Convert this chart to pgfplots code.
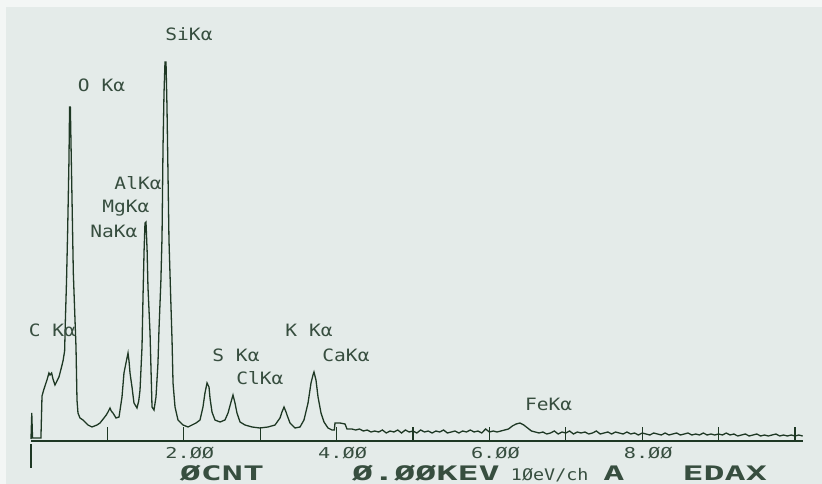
\documentclass[border=0pt]{standalone}
\usepackage{fontspec}
\usepackage{pgfplots}
\pgfplotsset{compat=1.18}
\newfontfamily\labfont[FakeStretch=1.15]{DejaVu Sans Mono}
\newfontfamily\tickfont[FakeStretch=1.35]{DejaVu Sans Mono}
\newfontfamily\botfont[FakeStretch=1.75]{DejaVu Sans Mono}
\definecolor{paper}{RGB}{228,235,233}
\definecolor{ink}{RGB}{30,56,36}
\definecolor{txt}{RGB}{55,78,63}
\tikzset{lab/.style={anchor=base, inner sep=0pt, text=txt, font=\labfont\fontsize{17bp}{20bp}\selectfont},
  bot/.style={anchor=base, inner sep=0pt, text=txt, font=\botfont\bfseries\fontsize{20bp}{24bp}\selectfont}}
\pgfplotstableread{
x y
0.000 2
0.010 28
0.020 3
0.130 3
0.144 45
0.170 52
0.209 61
0.235 68
0.249 66
0.270 68
0.288 62
0.314 56
0.340 60
0.366 64
0.393 72
0.419 80
0.440 90
0.450 121
0.465 160
0.480 211
0.497 281
0.505 334
0.515 334
0.533 258
0.554 168
0.576 121
0.589 94
0.602 41
0.615 28
0.641 23
0.681 21
0.720 18
0.746 16
0.798 14
0.864 16
0.903 18
0.955 23
0.985 26
1.008 29
1.034 33
1.050 30
1.073 28
1.113 23
1.152 24
1.191 44
1.217 68
1.243 78
1.270 88
1.283 80
1.296 68
1.322 54
1.348 38
1.387 33
1.410 40
1.427 51
1.453 94
1.466 144
1.480 190
1.492 218
1.505 219
1.520 190
1.531 154
1.558 108
1.584 34
1.610 31
1.636 44
1.662 78
1.675 111
1.700 160
1.715 204
1.728 294
1.741 348
1.754 379
1.767 379
1.780 334
1.793 268
1.806 201
1.830 140
1.846 101
1.859 58
1.885 34
1.924 21
1.990 16
2.055 14
2.107 16
2.160 18
2.212 21
2.251 34
2.277 48
2.304 58
2.317 56
2.330 54
2.343 43
2.369 29
2.408 21
2.474 19
2.539 21
2.579 28
2.618 39
2.644 46
2.670 38
2.696 28
2.736 19
2.801 16
2.893 14
2.997 13
3.102 14
3.194 16
3.259 23
3.285 29
3.312 34
3.338 29
3.351 26
3.390 18
3.455 13
3.521 14
3.573 21
3.626 38
3.665 58
3.691 66
3.704 69
3.730 61
3.757 44
3.796 28
3.835 19
3.887 13
3.940 11
3.970 11
3.979 18
4.045 18
4.110 17
4.136 12
4.20 12
4.25 11
4.30 12
4.35 10
4.40 11
4.45 9
4.50 10
4.55 9
4.60 11
4.65 8
4.70 10
4.75 9
4.80 11
4.85 8
4.90 11
4.95 9
5.00 10
5.05 8
5.10 11
5.15 9
5.20 10
5.25 8
5.30 10
5.35 9
5.40 11
5.45 8
5.50 9
5.55 10
5.60 8
5.65 10
5.70 9
5.75 11
5.80 9
5.85 10
5.90 8
5.95 12
6.00 9
6.05 10
6.10 9
6.15 10
6.20 11
6.25 12
6.30 15
6.35 17
6.40 18
6.45 16
6.50 13
6.55 10
6.60 9
6.65 8
6.70 9
6.75 7
6.80 8
6.85 10
6.90 7
6.95 9
7.00 8
7.05 10
7.10 7
7.15 9
7.20 8
7.25 9
7.30 7
7.35 8
7.40 10
7.45 7
7.50 8
7.55 9
7.60 7
7.65 9
7.70 8
7.75 7
7.80 9
7.85 7
7.90 8
7.95 6
8.00 8
8.05 7
8.10 6
8.15 8
8.20 7
8.25 6
8.30 8
8.35 6
8.40 7
8.45 8
8.50 6
8.55 7
8.60 8
8.65 6
8.70 7
8.75 6
8.80 8
8.85 6
8.90 7
8.95 6
9.00 7
9.05 6
9.10 8
9.15 6
9.20 7
9.25 5
9.30 6
9.35 7
9.40 5
9.45 6
9.50 7
9.55 5
9.60 6
9.65 5
9.70 6
9.75 7
9.80 5
9.85 6
9.90 5
9.95 6
10.00 5
10.05 6
10.10 5
}\spectrum
\begin{document}
\begin{tikzpicture}
\useasboundingbox (0,0) rectangle (822bp,484bp);
\clip (0,0) rectangle (822bp,484bp);
\fill[white!55!paper] (0,0) rectangle (822bp,484bp);
\fill[paper] (6bp,0) rectangle (822bp,477bp);
\begin{axis}[
  at={(31bp,43bp)}, anchor=south west,
  scale only axis, width=771.64bp, height=441bp,
  xmin=0, xmax=10.1, ymin=0, ymax=441,
  axis x line=bottom, axis y line=none,
  axis line style={-, line width=1.7bp, ink},
  xtick={1,2,3,4,5,6,7,8,9,10},
  xticklabels={,2.ØØ,,4.ØØ,,6.ØØ,,8.ØØ,,},
  ytick=\empty,
  tick align=inside, major tick length=14bp,
  tick style={ink, line width=1.1bp},
  xticklabel style={anchor=base, yshift=-17bp, xshift=6bp, inner sep=0pt,
    font=\tickfont\fontsize{15bp}{18bp}\selectfont, text=txt},
  clip=false,
]
\addplot[ink, line width=1.3bp, mark=none] table[x=x, y=y] {\spectrum};
\draw[ink, line width=1.7bp] (axis cs:0,-3) -- (axis cs:0,-27);
\node[lab] at (axis cs:2.068,400) {SiKα};
\node[lab] at (axis cs:0.923,349) {O Kα};
\node[lab] at (axis cs:1.401,251) {AlKα};
\node[lab] at (axis cs:1.243,228) {MgKα};
\node[lab] at (axis cs:1.086,203) {NaKα};
\node[lab] at (axis cs:0.281,104) {C Kα};
\node[lab] at (axis cs:2.683,79) {S Kα};
\node[lab] at (axis cs:2.997,56) {ClKα};
\node[lab] at (axis cs:3.639,104) {K Kα};
\node[lab] at (axis cs:4.123,79) {CaKα};
\node[lab] at (axis cs:6.774,31) {FeKα};
\node[bot] at (axis cs:2.50,-39.5) {ØCNT};
\node[bot] at (axis cs:5.17,-39.5) {Ø.ØØKEV};
\node[lab, font=\labfont\fontsize{16bp}{20bp}\selectfont] at (axis cs:6.79,-39.5) {1ØeV/ch};
\node[bot] at (axis cs:7.63,-39.5) {A};
\node[bot] at (axis cs:9.08,-39.5) {EDAX};
\end{axis}
\end{tikzpicture}
\end{document}
